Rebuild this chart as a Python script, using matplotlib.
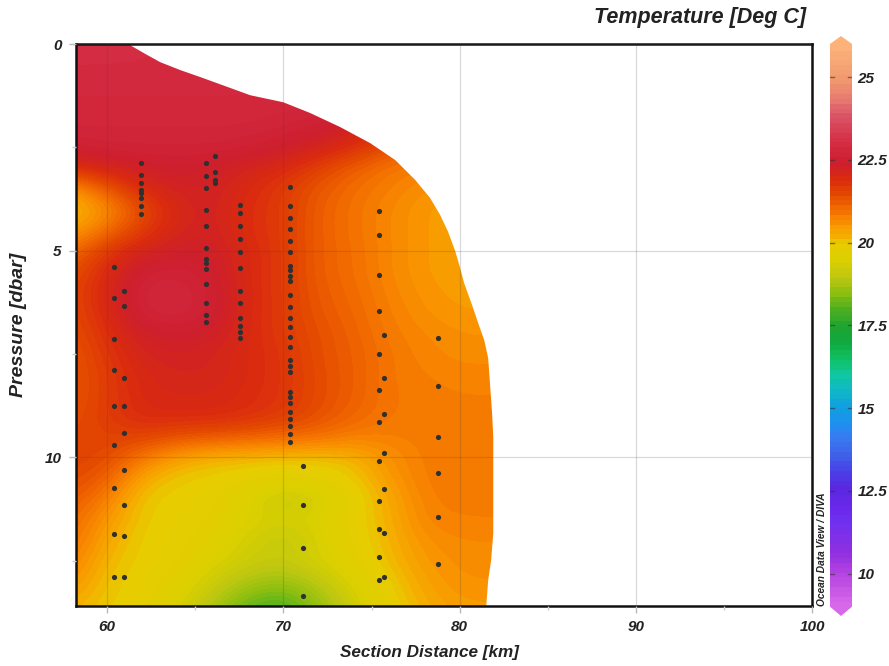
import numpy as np
import matplotlib
matplotlib.use("Agg")
import matplotlib.pyplot as plt
from matplotlib.colors import LinearSegmentedColormap
from matplotlib.patches import Polygon

plt.rcParams['font.family'] = ['Liberation Sans', 'DejaVu Sans']

#### temperature field
# columns every 2 km from 58 to 82, rows every 0.5 dbar from 0 to 14
dist = [58, 60, 62, 64, 66, 68, 70, 72, 74, 76, 78, 80, 82]
pres = [0, 0.5, 1, 1.5, 2, 2.5, 3, 3.5, 4, 4.5, 5, 5.5, 6, 6.5, 7, 7.5, 8, 8.5, 9, 9.5,
        10, 10.5, 11, 11.5, 12, 12.5, 13, 13.5, 14]
temp = [
    [23.1, 23.1, 23.0, 23.0, 23.0, 23.0, 23.0, 23.0, 22.9, 22.8, 22.7, 22.6, 22.6],
    [23.0, 23.0, 23.0, 23.0, 23.0, 23.0, 22.9, 22.9, 22.9, 22.8, 22.6, 22.5, 22.5],
    [22.9, 22.9, 22.9, 22.9, 22.9, 22.9, 22.9, 22.9, 22.8, 22.7, 22.5, 22.3, 22.3],
    [22.9, 22.9, 22.9, 22.9, 22.9, 22.9, 22.85, 22.8, 22.7, 22.6, 22.4, 22.2, 22.2],
    [22.8, 22.8, 22.8, 22.8, 22.8, 22.8, 22.7, 22.6, 22.3, 22.0, 21.6, 21.3, 21.3],
    [22.6, 22.7, 22.7, 22.7, 22.7, 22.6, 22.5, 22.2, 21.9, 21.4, 21.1, 20.9, 20.9],
    [21.9, 22.2, 22.4, 22.5, 22.4, 22.2, 22.0, 21.6, 21.2, 20.9, 20.8, 20.7, 20.7],
    [20.5, 21.3, 22.0, 22.3, 22.3, 22.0, 21.7, 21.3, 21.0, 20.8, 20.6, 20.5, 20.5],
    [20.1, 20.6, 21.5, 22.1, 22.3, 21.9, 21.7, 21.2, 20.95, 20.7, 20.5, 20.4, 20.4],
    [20.4, 21.0, 21.7, 22.2, 22.3, 21.9, 21.7, 21.2, 20.95, 20.7, 20.5, 20.4, 20.4],
    [21.0, 21.8, 22.2, 22.4, 22.4, 22.0, 21.7, 21.2, 21.0, 20.7, 20.5, 20.4, 20.4],
    [21.4, 22.0, 22.6, 22.7, 22.5, 22.0, 21.7, 21.2, 21.0, 20.7, 20.5, 20.4, 20.4],
    [21.5, 22.1, 22.8, 22.8, 22.6, 22.0, 21.7, 21.25, 21.05, 20.75, 20.55, 20.45, 20.45],
    [21.5, 22.0, 22.75, 22.8, 22.6, 22.0, 21.7, 21.3, 21.1, 20.8, 20.6, 20.5, 20.5],
    [21.4, 21.9, 22.4, 22.5, 22.4, 22.0, 21.7, 21.4, 21.15, 20.85, 20.7, 20.6, 20.6],
    [21.3, 21.8, 22.2, 22.3, 22.2, 22.0, 21.8, 21.4, 21.2, 20.9, 20.75, 20.65, 20.65],
    [21.3, 21.7, 22.1, 22.2, 22.2, 22.0, 21.8, 21.45, 21.2, 20.9, 20.8, 20.75, 20.75],
    [21.3, 21.7, 22.05, 22.1, 22.1, 21.95, 21.8, 21.45, 21.2, 20.9, 20.85, 20.8, 20.8],
    [21.4, 21.7, 22.0, 22.0, 22.0, 21.9, 21.7, 21.4, 21.1, 20.9, 20.85, 20.85, 20.85],
    [21.5, 21.6, 21.6, 21.4, 21.3, 21.2, 21.1, 21.0, 20.8, 20.8, 20.85, 20.85, 20.85],
    [21.6, 21.5, 20.9, 20.4, 20.2, 20.15, 20.1, 20.1, 20.2, 20.6, 20.85, 20.85, 20.85],
    [21.5, 21.2, 20.3, 20.0, 19.95, 19.85, 19.7, 19.8, 20.0, 20.5, 20.85, 20.85, 20.85],
    [21.3, 20.8, 20.0, 19.95, 19.85, 19.5, 19.1, 19.3, 19.85, 20.3, 20.8, 20.85, 20.85],
    [21.1, 20.5, 20.0, 19.9, 19.8, 19.5, 19.35, 19.5, 19.9, 20.25, 20.75, 20.8, 20.8],
    [21.0, 20.3, 19.95, 19.85, 19.7, 19.3, 19.05, 19.4, 19.85, 20.2, 20.6, 20.7, 20.7],
    [20.8, 20.15, 19.95, 19.85, 19.5, 19.2, 19.1, 19.4, 19.75, 20.15, 20.5, 20.65, 20.65],
    [20.6, 20.05, 19.9, 19.7, 19.2, 18.8, 18.6, 19.0, 19.5, 20.0, 20.4, 20.6, 20.6],
    [20.3, 20.0, 19.9, 19.5, 18.9, 18.2, 18.0, 18.6, 19.3, 19.9, 20.3, 20.5, 20.5],
    [20.2, 19.95, 19.85, 19.3, 18.6, 17.9, 17.8, 18.4, 19.1, 19.8, 20.2, 20.4, 20.4],
]

#### edge of the gridded area (distance, pressure)
edge_dist = [58.0, 61.19, 61.59, 62.16, 63.01, 64.14, 65.28, 66.70, 68.12, 69.99, 71.52, 73.22, 74.93,
             76.35, 77.48, 78.33, 78.90, 79.35, 79.75, 80.03, 80.26, 80.71, 81.06, 81.40, 81.62, 81.74,
             81.85, 81.91, 81.91, 81.79, 81.62, 81.51, 58.0]
edge_pres = [0, 0, 0.10, 0.24, 0.44, 0.63, 0.80, 1.02, 1.24, 1.41, 1.67, 2.01, 2.40,
             2.81, 3.29, 3.73, 4.14, 4.55, 5.01, 5.42, 5.79, 6.32, 6.76, 7.17, 7.60, 8.31,
             8.98, 9.52, 11.84, 12.49, 12.98, 13.61, 13.61]

#### sample stations
st_dist = [60.4, 60.95, 61.9, 65.6, 66.1, 67.55, 70.4, 71.1, 75.4, 75.7, 78.8]
st_pres = [
    [5.4, 6.15, 7.14, 7.9, 8.75, 9.7, 10.75, 11.85, 12.9],
    [5.98, 6.34, 8.09, 8.76, 9.42, 10.3, 11.16, 11.9, 12.9],
    [2.88, 3.17, 3.37, 3.54, 3.6, 3.73, 3.92, 4.12],
    [2.88, 3.2, 3.49, 4.02, 4.41, 4.94, 5.2, 5.3, 5.45, 5.81, 6.27, 6.56, 6.73],
    [2.71, 3.1, 3.29, 3.37],
    [3.9, 4.09, 4.41, 4.72, 5.04, 5.42, 5.98, 6.27, 6.63, 6.83, 6.97, 7.12],
    [3.46, 3.92, 4.21, 4.48, 4.77, 5.04, 5.38, 5.47, 5.62, 5.74, 6.08, 6.37, 6.63, 6.85,
     7.09, 7.34, 7.65, 7.8, 7.94, 8.43, 8.55, 8.69, 8.91, 9.08, 9.25, 9.44, 9.64],
    [10.2, 11.16, 12.2, 13.37],
    [4.04, 4.62, 5.59, 6.46, 7.51, 8.38, 9.15, 10.1, 11.07, 11.74, 12.42, 12.98],
    [7.05, 8.09, 8.96, 9.9, 10.77, 11.84, 12.9],
    [7.12, 8.28, 9.52, 10.39, 11.45, 12.59],
]

#### colour bar
cb_vals = [9, 10, 10.5, 11, 11.5, 12, 12.5, 13, 13.5, 14, 14.5, 15, 15.5, 16, 16.5, 17, 17.5, 18,
           18.5, 19, 19.5, 20, 20.25, 20.6, 21.0, 21.25, 21.5, 22, 22.5, 23, 23.5, 24, 24.5, 25, 26]
cb_cols = ['#d868ea', '#b040e0', '#9030e0', '#8030e8', '#7030f0', '#6a28ea', '#5a28e0', '#4a40e8',
           '#4060ea', '#3a78f0', '#2090f0', '#10a0e0', '#10b8c8', '#10c8a0', '#10c060', '#10a840',
           '#20a530', '#50b020', '#90c010', '#c0c810', '#dcd000', '#e8cc00', '#f5b000', '#fa9200',
           '#f47000', '#ec5c00', '#e44a00', '#da2a10', '#cd1f2e', '#d42a40', '#d84055', '#dc5a6a',
           '#e97f70', '#f0986e', '#fdb27a']
cb_ticks = [10, 12.5, 15, 17.5, 20, 22.5, 25]
x_ticks = [60, 70, 80, 90, 100]
y_ticks = [0, 5, 10]

W, H = 889, 666
lo, hi = cb_vals[0], cb_vals[-1]
stops = [(v - lo) / (hi - lo) for v in cb_vals]
cmap = LinearSegmentedColormap.from_list("odv", list(zip(stops, cb_cols)), N=170)

fig = plt.figure(figsize=(W / 100, H / 100), dpi=100)
ax = fig.add_axes([75.5 / W, (H - 606) / H, (812 - 75.5) / W, (606 - 44) / H])

# half a cell wider on each side so grid values sit on their own distance / pressure
field = ax.imshow(temp, cmap=cmap, vmin=lo, vmax=hi, aspect='auto', origin='upper',
                  extent=[dist[0] - 1, dist[-1] + 1, pres[-1] + 0.25, pres[0] - 0.25],
                  interpolation='bicubic', interpolation_stage='data', zorder=1)
clip = Polygon(np.column_stack([edge_dist, edge_pres]), closed=True, transform=ax.transData)
field.set_clip_path(clip)

ax.set_xlim(58.2, 100)
ax.set_ylim(13.6, 0)
ax.set_xticks(x_ticks)
ax.set_yticks(y_ticks)
ax.set_xticks([65, 75, 85, 95], minor=True)
ax.set_yticks([2.5, 7.5, 12.5], minor=True)
ax.grid(True, which='major', color='#444444', alpha=0.2, lw=0.9, zorder=2)
ax.set_axisbelow(False)
ax.tick_params(which='major', length=5, width=1, color='#bbbbbb', pad=5)
ax.tick_params(which='minor', length=3, width=1, color='#cccccc')
for lab in ax.get_xticklabels() + ax.get_yticklabels():
    lab.set_fontsize(11)
    lab.set_fontweight('bold')
    lab.set_fontstyle('italic')
    lab.set_color('#222222')
for s in ax.spines.values():
    s.set_linewidth(1.8)
    s.set_color('#111111')

for d, ps in zip(st_dist, st_pres):
    ax.scatter([d] * len(ps), ps, s=14, color='#303030', lw=0, zorder=3)

fig.text(429 / W, 1 - 652 / H, "Section Distance [km]", fontsize=12.3, fontweight='bold', fontstyle='italic',
         ha='center', va='center', color='#222222')
fig.text(19 / W, 1 - 325 / H, "Pressure [dbar]", fontsize=14, fontweight='bold', fontstyle='italic',
         rotation=90, ha='center', va='center', color='#222222')
fig.text(806 / W, 1 - 18 / H, "Temperature [Deg C]", fontsize=15.5, fontweight='bold', fontstyle='italic',
         ha='right', va='center', color='#222222')
fig.text(822 / W, 1 - 549 / H, "Ocean Data View / DIVA", fontsize=7.3, fontweight='bold', fontstyle='italic',
         rotation=90, ha='center', va='center', color='#222222')

# colour bar with pointed ends
tip_lo, tip_hi = 8.72, 26.24
cax = fig.add_axes([830 / W, (H - 616) / H, 22 / W, (616 - 36) / H])
bar = np.linspace(tip_lo, tip_hi, 120).reshape(-1, 1)
im = cax.imshow(bar, origin='lower', aspect='auto', cmap=cmap, vmin=lo, vmax=hi,
                extent=[0, 1, tip_lo, tip_hi], interpolation='nearest')
outline = Polygon([(0, lo), (0.5, tip_lo), (1, lo), (1, hi), (0.5, tip_hi), (0, hi)], closed=True,
                  transform=cax.transData)
im.set_clip_path(outline)
cax.set_xlim(0, 1)
cax.set_ylim(tip_lo, tip_hi)
cax.set_xticks([])
cax.set_yticks(cb_ticks)
cax.set_yticklabels([str(t) for t in cb_ticks], fontsize=11, fontweight='bold', fontstyle='italic', color='#222222')
cax.yaxis.tick_right()
cax.tick_params(axis='y', length=0, pad=4)
for t in cb_ticks:
    cax.plot([0, 0.2], [t, t], color='#333333', alpha=0.6, lw=1)
    cax.plot([0.8, 1], [t, t], color='#333333', alpha=0.6, lw=1)
for s in cax.spines.values():
    s.set_visible(False)

fig.savefig("out.png", dpi=100)
